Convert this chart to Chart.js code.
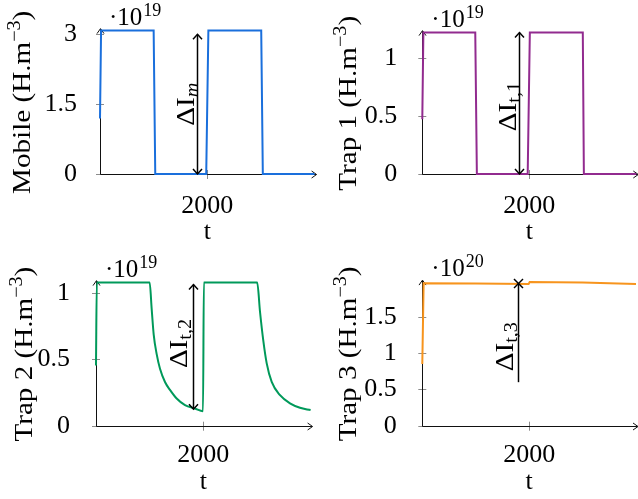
<!DOCTYPE html>
<html>
<head>
<meta charset="utf-8">
<script src="https://cdn.jsdelivr.net/npm/chart.js@4.4.0/dist/chart.umd.min.js"></script>
<style>
  html, body { margin: 0; padding: 0; background: #fff; }
  #wrap { position: relative; width: 638px; height: 499px; overflow: hidden; }
  canvas { position: absolute; }
</style>
</head>
<body>
<div id="wrap">
  <canvas id="mobile" width="318" height="249" style="left:0;top:0"></canvas>
  <canvas id="trap1" width="320" height="249" style="left:318px;top:0"></canvas>
  <canvas id="trap2" width="318" height="250" style="left:0;top:249px"></canvas>
  <canvas id="trap3" width="320" height="250" style="left:318px;top:249px"></canvas>
</div>
<script>
// concentrations (mobile/trap 1/trap 2 in 1e19, trap 3 in 1e20 H.m^-3)
const mobileT = [0, 20, 1000, 1030, 1980, 2020, 3005, 3035, 4000];
const mobileY = [1.19, 3.08, 3.08, 0, 0, 3.08, 3.08, 0, 0];

const trap1T = [0, 20, 990, 1020, 1970, 2010, 3000, 3020, 4000];
const trap1Y = [0.47, 1.216, 1.216, 0, 0, 1.216, 1.216, 0, 0];

const trap2T = [0, 15, 1000, 1038, 1075, 1131, 1193, 1286, 1379, 1504, 1659, 1845, 1995, 2010,
                3005, 3057, 3119, 3182, 3275, 3430, 3616, 3802, 4000];
const trap2Y = [0.455, 1.08, 1.08, 0.88, 0.69, 0.54, 0.43, 0.33, 0.27, 0.205, 0.155, 0.13, 0.11, 1.08,
                1.08, 0.86, 0.64, 0.47, 0.33, 0.23, 0.168, 0.135, 0.118];

const trap3T = [0, 25, 1000, 1990, 2010, 3000, 4000];
const trap3Y = [0.85, 1.965, 1.96, 1.955, 1.98, 1.975, 1.955];

// axes
const xTicks = [2000];
const mobileTicks = [0, 1.5, 3];
const trap1Ticks = [0, 0.5, 1];
const trap2Ticks = [0, 0.5, 1];
const trap3Ticks = [0, 0.5, 1, 1.5];
const yMaxes = [3.08, 1.216, 1.08, 1.98];
const exponents = ['19', '19', '19', '20'];
const yNames = ['Mobile', 'Trap 1', 'Trap 2', 'Trap 3'];

// Delta I annotations (t, from, to, label centre)
const deltaT = [1800, 1800, 1800, 1800];
const deltaFrom = [0, 0, 0.125, 0.6];
const deltaTo = [3.0, 1.216, 1.065, 1.96];
const deltaLabelAt = [1.5, 0.58, 0.62, 1.09];
const deltaSubs = ['m', 't,1', 't,2', 't,3'];

const SERIF = "'Liberation Serif', 'DejaVu Serif', serif";
const STRETCH = 1.12;

// pixel layout of each panel (canvas-local)
const panelLayout = [
    { left: 100, right: 3.4, top: 30.3, axisH: 75, xPad: 9, yPad: 15, titleX: 29.5, gap: 4 },
    { left: 104.3, right: 1.7, top: 29.3, axisH: 75, xPad: 9, yPad: 17, titleX: 38.3, gap: 4 },
    { left: 96, right: 7.4, top: 32.7, axisH: 73.3, xPad: 6.2, yPad: 18, titleX: 31.7, gap: 7 },
    { left: 104.3, right: 2, top: 31.9, axisH: 73.3, xPad: 6.2, yPad: 17.5, titleX: 38.3, gap: 6 }
];

function seg(ctx, x1, y1, x2, y2) {
    ctx.beginPath();
    ctx.moveTo(x1, y1);
    ctx.lineTo(x2, y2);
    ctx.stroke();
}

// open chevron head, tip at (x, y), pointing along (dx, dy)
function head(ctx, x, y, dx, dy, len, half) {
    const px = -dy, py = dx;
    ctx.beginPath();
    ctx.moveTo(x - dx * len + px * half, y - dy * len + py * half);
    ctx.lineTo(x, y);
    ctx.lineTo(x - dx * len - px * half, y - dy * len - py * half);
    ctx.stroke();
}

// draw rotated text made of [text, size, shift, italic] parts, baseline at x, centred on cy
function rotatedText(ctx, x, cy, parts) {
    let total = 0;
    parts.forEach(p => {
        ctx.font = (p[3] ? 'italic ' : '') + p[1] + 'px ' + SERIF;
        p.w = ctx.measureText(p[0]).width;
        total += p.w;
    });
    ctx.save();
    ctx.translate(x, cy);
    ctx.rotate(-Math.PI / 2);
    ctx.scale(STRETCH, 1);
    ctx.fillStyle = '#000';
    ctx.textAlign = 'left';
    ctx.textBaseline = 'alphabetic';
    let pos = -total / 2;
    parts.forEach(p => {
        ctx.font = (p[3] ? 'italic ' : '') + p[1] + 'px ' + SERIF;
        ctx.fillText(p[0], pos, p[2]);
        pos += p.w;
    });
    ctx.restore();
}

const overlay = {
    id: 'overlay',
    beforeDatasetsDraw(chart, args, opts) {
        const { ctx, chartArea: a, scales: { x, y } } = chart;
        ctx.save();
        ctx.lineWidth = 1;
        ctx.strokeStyle = '#8c8c8c';
        y.ticks.forEach(t => {
            const py = Math.round(y.getPixelForValue(t.value)) + 0.5;
            seg(ctx, a.left - 4, py, a.left + 4, py);
        });
        x.ticks.forEach(t => {
            const px = Math.round(x.getPixelForValue(t.value)) + 0.5;
            seg(ctx, px, a.bottom - 4, px, a.bottom + 5);
        });
        ctx.strokeStyle = '#111';
        const bx = Math.round(a.left) + 0.5, by = Math.round(a.bottom) + 0.5;
        seg(ctx, bx, by, a.right + 1.5, by);
        head(ctx, a.right + 2, by, 1, 0, 5, 3.5);
        seg(ctx, bx, by, bx, a.top - 1.5);
        head(ctx, bx, a.top - 2, 0, -1, 5, 3.5);
        ctx.restore();
    },
    afterDraw(chart, args, opts) {
        const { ctx, chartArea: a, scales: { x, y } } = chart;
        const i = opts.index, L = panelLayout[i];

        // y axis title with superscript
        rotatedText(ctx, L.titleX, (a.top + a.bottom) / 2, [
            [yNames[i] + ' (H.m', 26, 0], ['\u22123', 18, -10], [')', 26, 0]
        ]);

        // scale label
        ctx.save();
        ctx.fillStyle = '#000';
        ctx.textBaseline = 'alphabetic';
        ctx.font = '25px ' + SERIF;
        const base = '\u00b710';
        ctx.fillText(base, a.left + 9, a.top - 6);
        const bw = ctx.measureText(base).width;
        ctx.font = '18px ' + SERIF;
        ctx.fillText(exponents[i], a.left + 9 + bw + 1, a.top - 15);
        ctx.restore();

        // Delta I marker
        const px = Math.round(x.getPixelForValue(deltaT[i])) + 0.5;
        const p0 = y.getPixelForValue(deltaFrom[i]);
        const p1 = y.getPixelForValue(deltaTo[i]);
        ctx.save();
        ctx.strokeStyle = '#000';
        ctx.lineWidth = 1.5;
        seg(ctx, px, p0, px, p1);
        if (i < 3) {
            head(ctx, px, p1, 0, -1, 5, 4.5);
            head(ctx, px, p0, 0, 1, 5, 4.5);
        } else {
            seg(ctx, px - 4.5, p1 - 4.5, px + 4.5, p1 + 4.5);
            seg(ctx, px - 4.5, p1 + 4.5, px + 4.5, p1 - 4.5);
        }
        ctx.restore();
        rotatedText(ctx, px - L.gap, y.getPixelForValue(deltaLabelAt[i]), [
            ['\u0394I', 26, 0], [deltaSubs[i], 18, 4.5, i === 0]
        ]);
    }
};

function makePanel(canvasId, index, times, values, color, ticks, smooth) {
    const L = panelLayout[index];
    const ctx = document.getElementById(canvasId).getContext('2d');
    const tickFont = { family: SERIF, size: 26 };

    return new Chart(ctx, {
        type: 'line',
        data: {
            datasets: [{
                data: times.map((t, k) => ({ x: t, y: values[k] })),
                borderColor: color,
                borderWidth: 2,
                pointRadius: 0,
                tension: 0,
                cubicInterpolationMode: smooth ? 'monotone' : 'default',
                fill: false,
                clip: false
            }]
        },
        options: {
            responsive: false,
            animation: false,
            devicePixelRatio: 1,
            layout: { padding: { left: 0, top: L.top, right: L.right, bottom: 0 } },
            scales: {
                x: {
                    type: 'linear',
                    min: 0,
                    max: 4000,
                    border: { display: false },
                    grid: { display: false },
                    afterBuildTicks: s => { s.ticks = xTicks.map(v => ({ value: v })); },
                    afterFit: s => { s.height = L.axisH; },
                    ticks: {
                        font: tickFont,
                        color: '#000',
                        padding: L.xPad,
                        maxRotation: 0,
                        autoSkip: false,
                        callback: v => String(v)
                    },
                    title: {
                        display: true,
                        text: 't',
                        color: '#000',
                        font: tickFont,
                        padding: { top: 0, bottom: 1.5 }
                    }
                },
                y: {
                    min: 0,
                    max: yMaxes[index],
                    border: { display: false },
                    grid: { display: false },
                    afterBuildTicks: s => { s.ticks = ticks.map(v => ({ value: v })); },
                    afterFit: s => { s.width = L.left; },
                    ticks: {
                        font: tickFont,
                        color: '#000',
                        padding: L.yPad,
                        callback: v => String(v)
                    }
                }
            },
            plugins: {
                legend: { display: false },
                tooltip: { enabled: false },
                overlay: { index: index }
            }
        },
        plugins: [overlay]
    });
}

makePanel('mobile', 0, mobileT, mobileY, '#1a6fdc', mobileTicks, false);
makePanel('trap1', 1, trap1T, trap1Y, '#922b8f', trap1Ticks, false);
makePanel('trap2', 2, trap2T, trap2Y, '#00995a', trap2Ticks, true);
makePanel('trap3', 3, trap3T, trap3Y, '#f7941d', trap3Ticks, false);
</script>
</body>
</html>
